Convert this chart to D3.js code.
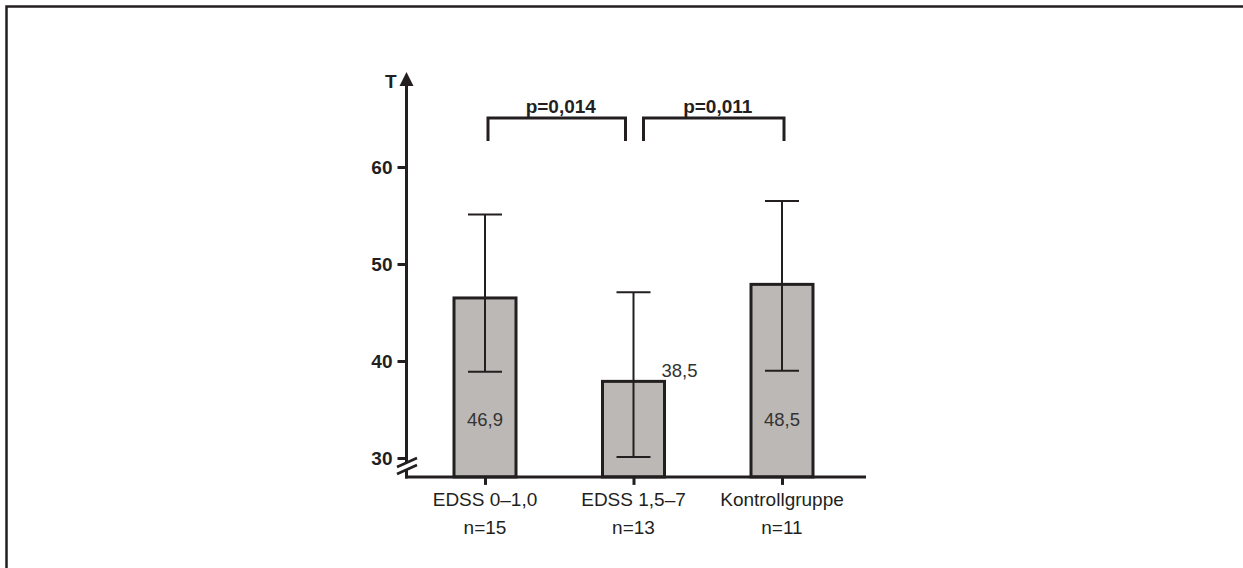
<!DOCTYPE html>
<html>
<head>
<meta charset="utf-8">
<script src="https://cdn.jsdelivr.net/npm/d3@7"></script>
<style>
  body { margin: 0; background: #fff; }
  svg { display: block; }
  text { font-family: "Liberation Sans", Arial, sans-serif; fill: #231f20; }
</style>
</head>
<body>
<svg id="chart" width="1243" height="568"></svg>
<script>
// data
var groups = ["EDSS 0\u20131,0", "EDSS 1,5\u20137", "Kontrollgruppe"];
var groupN = ["n=15", "n=13", "n=11"];
var means = [46.5, 37.9, 47.9];
var errLow = [38.9, 30.1, 39.0];
var errHigh = [55.1, 47.1, 56.5];
var meanLabels = ["46,9", "38,5", "48,5"];
var yTicks = [30, 40, 50, 60];
var comparisons = [{a: 0, b: 1, p: "p=0,014"}, {a: 1, b: 2, p: "p=0,011"}];

var ink = "#231f20";
var svg = d3.select("#chart");

// frame (top and left edge only)
svg.append("path").attr("d", "M6.5,568 V6.5 H1243")
   .attr("fill", "none").attr("stroke", ink).attr("stroke-width", 2.5);

var y = d3.scaleLinear().domain([30, 60]).range([458, 167]);
var x = d3.scalePoint().domain(groups).range([485, 782]);
var axisX = 406.5;
var base = y(28.05);
var barW = 62;

// bars
svg.selectAll("rect.bar").data(means).enter().append("rect")
   .attr("class", "bar")
   .attr("x", function(d, i){ return x(groups[i]) - barW/2; })
   .attr("y", function(d){ return y(d); })
   .attr("width", barW)
   .attr("height", function(d){ return base - y(d); })
   .attr("fill", "#bcb8b5").attr("stroke", ink).attr("stroke-width", 3);

// error bars
var eb = svg.selectAll("g.err").data(means).enter().append("g").attr("class", "err")
   .attr("stroke", ink).attr("stroke-width", 2);
eb.append("line")
   .attr("x1", function(d, i){ return x(groups[i]); })
   .attr("x2", function(d, i){ return x(groups[i]); })
   .attr("y1", function(d, i){ return y(errLow[i]); })
   .attr("y2", function(d, i){ return y(errHigh[i]); });
[errLow, errHigh].forEach(function(arr){
  eb.append("line")
     .attr("x1", function(d, i){ return x(groups[i]) - 17; })
     .attr("x2", function(d, i){ return x(groups[i]) + 17; })
     .attr("y1", function(d, i){ return y(arr[i]); })
     .attr("y2", function(d, i){ return y(arr[i]); });
});

// mean labels
svg.selectAll("text.mean").data(meanLabels).enter().append("text")
   .attr("class", "mean")
   .attr("x", function(d, i){ return i == 1 ? x(groups[i]) + barW/2 - 3 : x(groups[i]); })
   .attr("y", function(d, i){ return i == 1 ? y(means[i]) - 4 : y(33.3); })
   .attr("text-anchor", function(d, i){ return i == 1 ? "start" : "middle"; })
   .style("font-size", "18.5px").style("fill", "#333")
   .text(function(d){ return d; });

// y axis
var yAxis = svg.append("g").attr("transform", "translate(" + axisX + ",0)")
   .call(d3.axisLeft(y).tickValues(yTicks).tickSize(9).tickPadding(5));
yAxis.select(".domain").remove();
yAxis.selectAll(".tick line").attr("stroke", ink).attr("stroke-width", 3);
yAxis.selectAll(".tick text").style("font-size", "19px").style("font-weight", "bold")
   .style("font-family", "'Liberation Sans', Arial, sans-serif").attr("fill", ink);

var yTop = y(69.8);
svg.append("line").attr("x1", axisX).attr("x2", axisX).attr("y1", yTop + 12).attr("y2", 462)
   .attr("stroke", ink).attr("stroke-width", 3);
svg.append("line").attr("x1", axisX).attr("x2", axisX).attr("y1", 470).attr("y2", base + 1.5)
   .attr("stroke", ink).attr("stroke-width", 3);
svg.append("path")
   .attr("d", "M" + axisX + "," + yTop + " L" + (axisX + 7) + "," + (yTop + 14) + " L" + (axisX - 7) + "," + (yTop + 14) + " Z")
   .attr("fill", ink);
svg.append("text").attr("x", axisX - 10).attr("y", yTop + 16).attr("text-anchor", "end")
   .style("font-size", "19px").style("font-weight", "bold").text("T");

// axis break marks
[0, 7].forEach(function(o){
  svg.append("line").attr("x1", 397).attr("y1", 467 + o).attr("x2", 417).attr("y2", 458 + o)
     .attr("stroke", ink).attr("stroke-width", 2.5);
});

// x axis
svg.append("line").attr("x1", axisX - 1.5).attr("x2", 866).attr("y1", base).attr("y2", base)
   .attr("stroke", ink).attr("stroke-width", 3);
var xAxis = svg.append("g").attr("transform", "translate(0," + base + ")")
   .call(d3.axisBottom(x).tickSize(8).tickFormat(""));
xAxis.select(".domain").remove();
xAxis.selectAll(".tick line").attr("stroke", ink).attr("stroke-width", 3);

var lab = svg.selectAll("text.cat").data(groups).enter().append("text")
   .attr("class", "cat").attr("text-anchor", "middle")
   .style("font-size", "19px");
lab.append("tspan").attr("x", function(d){ return x(d); }).attr("y", base + 29)
   .text(function(d){ return d; });
lab.append("tspan").attr("x", function(d){ return x(d); }).attr("y", base + 57)
   .text(function(d, i){ return groupN[i]; });

// significance brackets
var brTop = 118, brBot = 141;
comparisons.forEach(function(c, k){
  var x1 = x(groups[c.a]) + (k == 0 ? 3 : 10);
  var x2 = x(groups[c.b]) - (k == 0 ? 8 : -2);
  svg.append("path")
     .attr("d", "M" + x1 + "," + brBot + " V" + brTop + " H" + x2 + " V" + brBot)
     .attr("fill", "none").attr("stroke", ink).attr("stroke-width", 3);
  svg.append("text").attr("x", (x1 + x2) / 2 + 4).attr("y", brTop - 5)
     .attr("text-anchor", "middle")
     .style("font-size", "19px").style("font-weight", "bold")
     .text(c.p);
});
</script>
</body>
</html>
